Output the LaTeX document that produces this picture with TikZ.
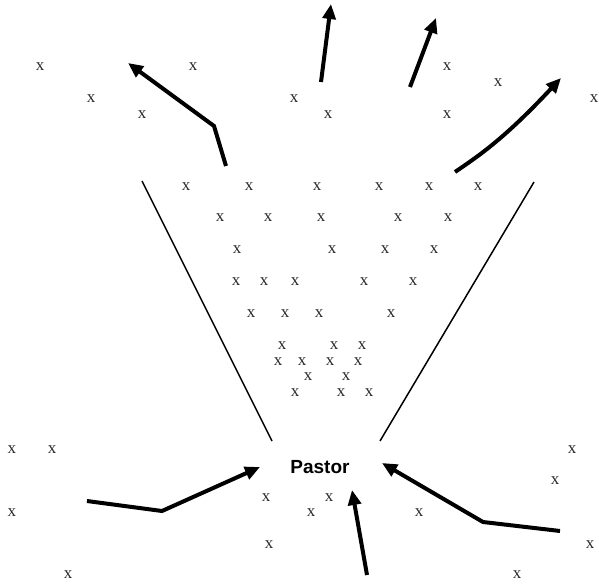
\documentclass[tikz,border=0pt]{standalone}
\usepackage{fontspec}
\setmainfont{Liberation Serif}
\setsansfont{Liberation Sans}
\usepackage{xcolor,tikz}
\usetikzlibrary{arrows.meta}
\definecolor{crowdInk}{HTML}{2A2A2A}
\tikzset{
  move arrow/.style={
    -{Triangle[length=15pt, width=13pt]},
    line width=4pt,
    line join=miter,
  },
  crowd mark/.style={
    font=\fontsize{17}{17}\selectfont, color=crowdInk, inner sep=0pt,
  },
}

\begin{document}
\begin{tikzpicture}[x=1pt, y=-1pt]

\useasboundingbox (0,0) rectangle (599,585);

% Crowd marks (one x per person)
\foreach \px/\py [count=\i] in {
  40/67, 193/67, 91/99, 142/115, 294/99, 328/115, 447/67, 498/83, 447/115, 594/99,
  186/187, 249/187, 317/187, 379/187, 429/187, 478/187,
  220/218, 268/218, 321/218, 398/218, 448/218,
  237/250, 332/250, 385/250, 434/250,
  236/282, 264/282, 295/282, 364/282, 413/282,
  251/314, 285/314, 319/314, 391/314,
  282/346, 334/346, 362/346,
  278/362, 302/362, 330/362, 358/362,
  308/377, 346/377,
  295/393, 341/393, 369/393,
  12/450, 52/450, 12/513, 68/575, 266/498, 269/545,
  329/498, 311/513, 419/513, 572/450, 555/481, 590/545, 517/575} {
  \node[crowd mark] (p\i) at (\px, \py) {x};
}

% Funnel sides
\draw[line width=1.5pt] (142,181) -- (272,441);
\draw[line width=1.5pt] (534,182) -- (380,441);

% Pastor
\node[font=\sffamily\bfseries\fontsize{19}{19}\selectfont, inner sep=0pt] (pastor) at (320,467) {Pastor};

% Leaving the church (top)
\draw[move arrow] (226,166) -- (214,126) -- (128,63);
\draw[move arrow] (321,82) -- (331,4);
\draw[move arrow] (410,87) -- (436,18);
\draw[move arrow] (455,172) .. controls (480,155) and (505,138) .. (561,78);

% Coming in (bottom)
\draw[move arrow] (87,501) -- (162,511) -- (260,467);
\draw[move arrow] (367,575) -- (352,490);
\draw[move arrow] (560,531) -- (483,522) -- (382,463);

\end{tikzpicture}
\end{document}
